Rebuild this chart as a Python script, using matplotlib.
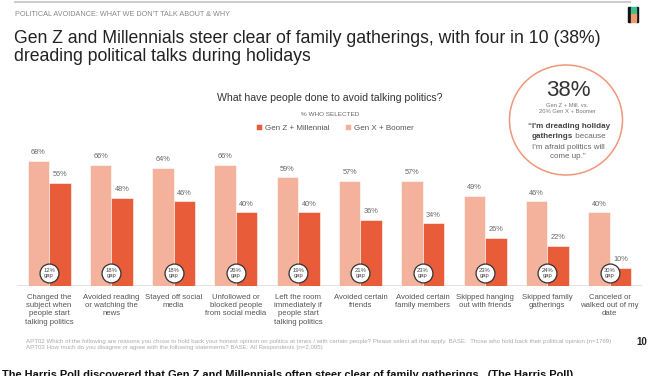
import numpy as np
import matplotlib.pyplot as plt
from matplotlib.patches import Ellipse, Rectangle

plt.rcParams['font.family'] = ['Liberation Sans', 'DejaVu Sans']

# data
categories = [
    "Changed the\nsubject when\npeople start\ntalking politics",
    "Avoided reading\nor watching the\nnews",
    "Stayed off social\nmedia",
    "Unfollowed or\nblocked people\nfrom social media",
    "Left the room\nimmediately if\npeople start\ntalking politics",
    "Avoided certain\nfriends",
    "Avoided certain\nfamily members",
    "Skipped hanging\nout with friends",
    "Skipped family\ngatherings",
    "Canceled or\nwalked out of my\ndate",
]
gen_x_boomer = [68, 66, 64, 66, 59, 57, 57, 49, 46, 40]
gen_z_mill = [56, 48, 46, 40, 40, 36, 34, 26, 22, 10]
gaps = [12, 18, 18, 26, 19, 21, 23, 23, 24, 30]

DARK = '#E85C3A'
LIGHT = '#F4B19B'
W, H = 668, 376

def fx(px):
    return px / W

def fy(py):
    return 1 - py / H

fig = plt.figure(figsize=(6.68, 3.76), dpi=100)
fig.patch.set_facecolor('white')

# bar area: baseline at y=286px, 1.84 px per percent
ax = fig.add_axes([fx(17), fy(286), fx(642) - fx(17), 80 * 1.84 / H])
x = np.arange(len(categories))
bw = 0.345
b1 = ax.bar(x - bw / 2, gen_x_boomer, bw, color=LIGHT, edgecolor='white', linewidth=0.4,
            label='Gen X + Boomer')
b2 = ax.bar(x + bw / 2, gen_z_mill, bw, color=DARK, edgecolor='white', linewidth=0.4,
            label='Gen Z + Millennial')
ax.set_xlim(-0.514, 9.52)
ax.set_ylim(0, 80)
ax.axis('off')
ax.axhline(0, color='#dddddd', lw=1.2, zorder=0)

for xi, v in zip(x - bw / 2, gen_x_boomer):
    ax.annotate(f"{v}%", (xi, v), xytext=(0, 6), textcoords='offset points',
                ha='center', va='center', fontsize=5.3, color='#666666')
for xi, v in zip(x + bw / 2, gen_z_mill):
    ax.annotate(f"{v}%", (xi, v), xytext=(0, 6), textcoords='offset points',
                ha='center', va='center', fontsize=5.3, color='#666666')

# gap badges
ax.scatter(x, [7.1] * len(x), s=185, facecolor='white', edgecolor='#333333',
           linewidth=0.9, zorder=5, clip_on=False)
for xi, g in zip(x, gaps):
    ax.text(xi, 7.1, f"{g}%\ngap", ha='center', va='center', fontsize=4.2,
            color='#444444', linespacing=0.95, zorder=6)

for xi, c in zip(x, categories):
    ax.annotate(c, (xi, 0), xytext=(0, -5.5), textcoords='offset points',
                ha='center', va='top', fontsize=5.6, color='#555555', linespacing=1.27)

# header
fig.add_artist(plt.Line2D([fx(15), fx(630)], [fy(2), fy(2)], color='#cccccc', lw=1.5))
fig.text(fx(15), fy(14), "POLITICAL AVOIDANCE: WHAT WE DON'T TALK ABOUT & WHY",
         fontsize=5.2, color='#888888', va='center')
fig.text(fx(14), fy(47.5), "Gen Z and Millennials steer clear of family gatherings, with four in 10 (38%)\n"
         "dreading political talks during holidays", fontsize=12.7, color='#222222',
         va='center', linespacing=1.15)

# logo
fig.add_artist(Rectangle((fx(628), fy(22)), fx(2.5), 15 / H, color='#111111'))
fig.add_artist(Rectangle((fx(635.5), fy(22)), fx(2.5), 15 / H, color='#111111'))
fig.add_artist(Rectangle((fx(630.5), fy(14)), fx(5), 7 / H, color='#3DBE8B'))
fig.add_artist(Rectangle((fx(630.5), fy(22)), fx(5), 8 / H, color='#F09A70'))

fig.text(fx(330), fy(98), "What have people done to avoid talking politics?", fontsize=7.6,
         color='#333333', ha='center', va='center')
fig.text(fx(330), fy(114), "% WHO SELECTED", fontsize=4.6, color='#666666',
         ha='center', va='center')
fig.legend(handles=[b2, b1], loc='center', bbox_to_anchor=(fx(335), fy(128)), ncol=2,
           frameon=False, fontsize=5.8, handlelength=0.75, handleheight=0.85,
           handletextpad=0.35, columnspacing=2.0, labelcolor='#555555')

# callout circle
fig.add_artist(Ellipse((fx(566), fy(120)), 113 / W, 110 / H, transform=fig.transFigure,
                       facecolor='white', edgecolor='#F0967A', lw=1.1))
fig.text(fx(568), fy(91), "38%", fontsize=16, color='#333333', ha='center', va='center')
fig.text(fx(567), fy(108.5), "Gen Z + Mill. vs.\n20% Gen X + Boomer", fontsize=4.2,
         color='#777777', ha='center', va='center', linespacing=1.4)
fig.text(fx(569), fy(127), "\u201cI'm dreading holiday", fontsize=5.8, color='#444444',
         ha='center', va='center', fontweight='bold')
fig.text(fx(573), fy(137), "gatherings", fontsize=5.8, color='#444444',
         ha='right', va='center', fontweight='bold')
fig.text(fx(573), fy(137), " because", fontsize=5.8, color='#666666',
         ha='left', va='center')
fig.text(fx(568), fy(152), "I'm afraid politics will\ncome up.\u201d", fontsize=5.8,
         color='#666666', ha='center', va='center', linespacing=1.25)

# footnotes
fig.text(fx(26), fy(344.5), "APT02 Which of the following are reasons you chose to hold back your honest opinion on politics at times / with certain people? Please select all that apply. BASE:  Those who hold back their political opinion (n=1769)\n"
         "APT03 How much do you disagree or agree with the following statements? BASE: All Respondents (n=2,095)",
         fontsize=4.45, color='#aaaaaa', va='center', linespacing=1.3)
fig.text(fx(642), fy(342), "10", fontsize=7, fontweight='bold', color='#222222',
         ha='center', va='center')

fig.text(fx(2), fy(375), "The Harris Poll discovered that Gen Z and Millennials often steer clear of family gatherings.  (The Harris Poll)",
         fontsize=7.9, fontweight='bold', color='#111111', va='center')

fig.savefig('out.png', dpi=100)
